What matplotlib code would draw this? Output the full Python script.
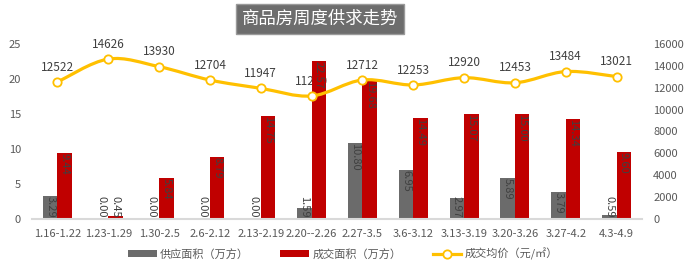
import numpy as np
import matplotlib.pyplot as plt
from matplotlib.path import Path
from matplotlib.patches import PathPatch, Patch
from matplotlib.lines import Line2D

plt.rcParams['font.family'] = ['Noto Sans CJK SC', 'DejaVu Sans']

# datos
semanas = ['1.16-1.22', '1.23-1.29', '1.30-2.5', '2.6-2.12', '2.13-2.19', '2.20--2.26',
           '2.27-3.5', '3.6-3.12', '3.13-3.19', '3.20-3.26', '3.27-4.2', '4.3-4.9']
oferta = [3.29, 0.00, 0.00, 0.00, 0.00, 1.59, 10.80, 6.95, 2.97, 5.89, 3.79, 0.59]
ventas = [9.44, 0.45, 5.84, 8.79, 14.75, 22.57, 19.68, 14.49, 15.07, 15.00, 14.34, 9.60]
precio = [12522, 14626, 13930, 12704, 11947, 11250, 12712, 12253, 12920, 12453, 13484, 13021]
etiquetas_precio = ['12522', '14626', '13930', '12704', '11947', '11250',
                    '12712', '12253', '12920', '12453', '13484', '13021']

gris = '#6b6b6b'
rojo = '#c00000'
oro = '#ffc000'
texto = '#404040'

fig = plt.figure(figsize=(7, 2.68), dpi=100)
ax = fig.add_axes([32 / 700, 49 / 268, 610 / 700, 175 / 268])
ax2 = ax.twinx()
# el precio va por encima, pero sus etiquetas quedan detras de las barras
ax.set_zorder(1)
ax2.set_zorder(2)

x = np.arange(len(semanas))
w = 0.285
ax.bar(x - w / 2, oferta, w, color=gris, zorder=2)
ax.bar(x + w / 2, ventas, w, color=rojo, zorder=2)

# etiquetas de las barras (giradas, dentro del extremo)
for xi, v in zip(x - w / 2, oferta):
    ax.text(xi, max(v, 3.35), f'{v:.2f}', rotation=-90, ha='center', va='top',
            fontsize=8, color=texto, zorder=3)
for xi, v in zip(x + w / 2, ventas):
    ax.text(xi, max(v, 3.35), f'{v:.2f}', rotation=-90, ha='center', va='top',
            fontsize=8, color=texto, zorder=3)

ax.set_xlim(-0.5, len(semanas) - 0.5)
ax.set_ylim(0, 25)
ax.set_yticks([0, 5, 10, 15, 20, 25])
ax.set_xticks(x)
ax.set_xticklabels(semanas)
ax2.set_ylim(0, 16000)
ax2.set_yticks(range(0, 16001, 2000))

for a in (ax, ax2):
    for s in a.spines.values():
        s.set_visible(False)
    a.tick_params(length=0, labelsize=8, colors='#595959')
ax.spines['bottom'].set_visible(True)
ax.spines['bottom'].set_color('#d9d9d9')
ax.spines['bottom'].set_linewidth(1.5)
ax.tick_params(axis='x', pad=7)
ax.tick_params(axis='y', pad=8)
ax2.tick_params(axis='y', pad=8)

# linea suavizada del precio medio
pts = np.column_stack([x, precio]).astype(float)
ext = np.vstack([pts[0], pts, pts[-1]])
verts = [tuple(pts[0])]
codes = [Path.MOVETO]
for i in range(len(pts) - 1):
    p0, p1, p2, p3 = ext[i], ext[i + 1], ext[i + 2], ext[i + 3]
    verts += [tuple(p1 + (p2 - p0) / 6), tuple(p2 - (p3 - p1) / 6), tuple(p2)]
    codes += [Path.CURVE4] * 3
ax2.add_patch(PathPatch(Path(verts, codes), facecolor='none', edgecolor=oro, lw=2.3, zorder=4))
ax2.plot(x, precio, 'o', color=oro, markerfacecolor='white', markeredgewidth=1.3,
         markersize=6, zorder=5)
for xi, p, t in zip(x, precio, etiquetas_precio):
    ax.annotate(t, (xi, p), xycoords=ax2.transData, xytext=(0, 6),
                textcoords='offset points', ha='center', va='bottom',
                fontsize=8.5, color=texto, zorder=1)

# titulo en caja gris
fig.text(320 / 700, 1 - 19 / 268, '商品房周度供求走势', ha='center', va='center',
         fontsize=12.5, color='white',
         bbox=dict(boxstyle='square,pad=0.35', facecolor='#6d6d6d', edgecolor='#9a9a9a', lw=1))

manejadores = [Patch(facecolor=gris, label='供应面积（万方）'),
               Patch(facecolor=rojo, label='成交面积（万方）'),
               Line2D([0], [0], color=oro, lw=2.3, marker='o', markerfacecolor='white',
                      markeredgewidth=1.3, markersize=6, label='成交均价（元/㎡）')]
fig.legend(handles=manejadores, loc='center', bbox_to_anchor=(0.49, 1 - 254 / 268), ncol=3,
           frameon=False, fontsize=8, handlelength=2.6, handleheight=0.6,
           handletextpad=0.3, columnspacing=2.8, labelcolor='#595959')

fig.savefig('out.png', dpi=100)
